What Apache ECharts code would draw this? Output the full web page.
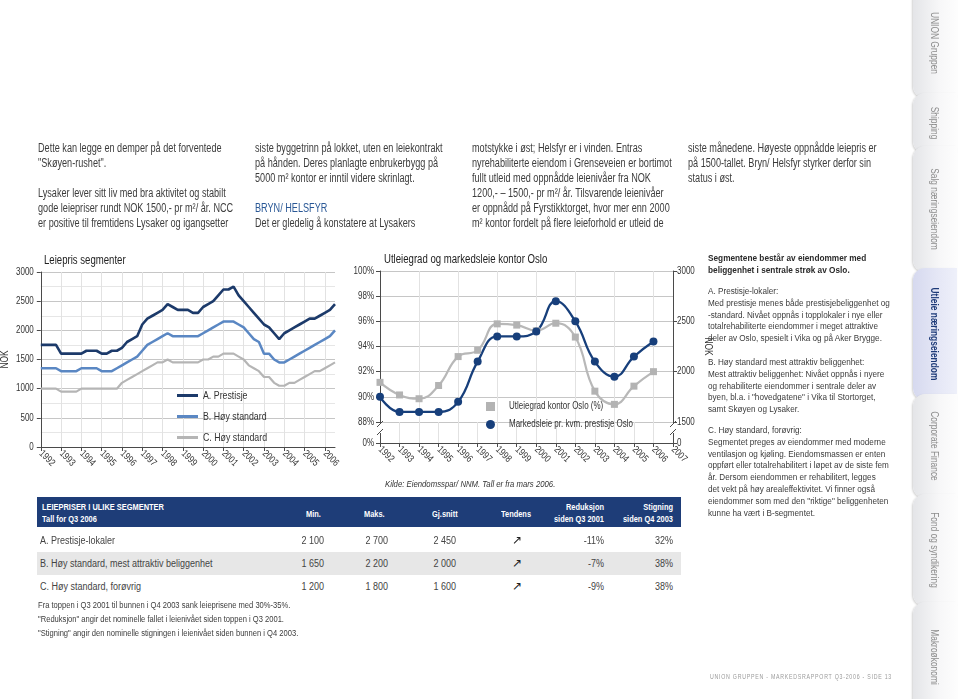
<!DOCTYPE html>
<html><head><meta charset="utf-8">
<script src="https://cdn.jsdelivr.net/npm/echarts@6/dist/echarts.min.js"></script>
<style>
body{margin:0;width:960px;height:699px;overflow:hidden;background:#fff;font-family:'Liberation Sans',Arial,sans-serif;color:#3c3c3c;position:relative;}
#chart{position:absolute;left:0;top:0;width:960px;height:699px;}
.t{position:absolute;white-space:nowrap;transform-origin:0 0;}
.col{font-size:12px;line-height:15px;transform:scaleX(0.76);}
.blue{color:#2a5896;}
.rp{font-size:9.6px;line-height:11.8px;transform:scaleX(0.85);}
.rpb{font-size:9.6px;line-height:12px;transform:scaleX(0.86);font-weight:bold;color:#2b2b2b;}
.hd{position:absolute;left:37px;top:497px;width:644px;height:30px;background:#1e3d78;}
.hw{position:absolute;color:#fff;font-weight:bold;font-size:9.3px;line-height:12px;white-space:nowrap;transform:scaleX(0.8);transform-origin:0 0;}
.hw.r{text-align:right;transform-origin:100% 0;}
.row{position:absolute;left:37px;width:644px;height:23px;}
.cell{position:absolute;font-size:10px;line-height:23px;white-space:nowrap;color:#444;transform:scaleX(0.9);}
.fn{font-size:9.6px;line-height:14px;transform:scaleX(0.79);}
.tab{position:absolute;left:913px;width:44px;border-radius:12px 0 0 12px;background:linear-gradient(to right,#e4e5e8,#f7f7f8 60%,#fdfdfd);box-shadow:-1px 1px 2px rgba(0,0,0,0.18);}
.tab span{position:absolute;left:50%;top:50%;transform:translate(-50%,-50%) scaleY(0.8);writing-mode:vertical-rl;font-size:10.5px;color:#8c8c8c;white-space:nowrap;}
.tab.act{background:linear-gradient(to right,#d6d9ef,#e6e8f6 60%,#eef0fa);}
.tab.act span{color:#1d3a78;font-weight:bold;}
.foot{font-size:7.4px;letter-spacing:1.05px;color:#9a9a9a;transform:scaleX(0.71);}
</style></head><body>
<div id="chart"></div>

<div class="t col" style="left:38px;top:140.5px;">Dette kan legge en demper på det forventede<br>"Skøyen-rushet".<br><br>Lysaker lever sitt liv med bra aktivitet og stabilt<br>gode leiepriser rundt NOK 1500,- pr m²/ år. NCC<br>er positive til fremtidens Lysaker og igangsetter</div>
<div class="t col" style="left:255px;top:140.5px;">siste byggetrinn på lokket, uten en leiekontrakt<br>på hånden. Deres planlagte enbrukerbygg på<br>5000 m² kontor er inntil videre skrinlagt.<br><br><span class="blue">BRYN/ HELSFYR</span><br>Det er gledelig å konstatere at Lysakers</div>
<div class="t col" style="left:472px;top:140.5px;">motstykke i øst; Helsfyr er i vinden. Entras<br>nyrehabiliterte eiendom i Grenseveien er bortimot<br>fullt utleid med oppnådde leienivåer fra NOK<br>1200,- – 1500,- pr m²/ år. Tilsvarende leienivåer<br>er oppnådd på Fyrstikktorget, hvor mer enn 2000<br>m² kontor fordelt på flere leieforhold er utleid de</div>
<div class="t col" style="left:688px;top:140.5px;">siste månedene. Høyeste oppnådde leiepris er<br>på 1500-tallet. Bryn/ Helsfyr styrker derfor sin<br>status i øst.</div>

<div class="t rpb" style="left:708px;top:252px;">Segmentene består av eiendommer med<br>beliggenhet i sentrale strøk av Oslo.</div>
<div class="t rp" style="left:708px;top:285px;">A. Prestisje-lokaler:<br>Med prestisje menes både prestisjebeliggenhet og<br>-standard. Nivået oppnås i topplokaler i nye eller<br>totalrehabiliterte eiendommer i meget attraktive<br>deler av Oslo, spesielt i Vika og på Aker Brygge.</div>
<div class="t rp" style="left:708px;top:356px;">B. Høy standard mest attraktiv beliggenhet:<br>Mest attraktiv beliggenhet: Nivået oppnås i nyere<br>og rehabiliterte eiendommer i sentrale deler av<br>byen, bl.a. i "hovedgatene" i Vika til Stortorget,<br>samt Skøyen og Lysaker.</div>
<div class="t rp" style="left:708px;top:424px;">C. Høy standard, forøvrig:<br>Segmentet preges av eiendommer med moderne<br>ventilasjon og kjøling. Eiendomsmassen er enten<br>oppført eller totalrehabilitert i løpet av de siste fem<br>år. Dersom eiendommen er rehabilitert, legges<br>det vekt på høy arealeffektivitet. Vi finner også<br>eiendommer som med den "riktige" beliggenheten<br>kunne ha vært i B-segmentet.</div>

<div class="hd"></div>
<div class="hw" style="left:42px;top:501px;">LEIEPRISER I ULIKE SEGMENTER<br>Tall for Q3 2006</div>
<div class="hw" style="left:306px;top:508px;">Min.</div>
<div class="hw" style="left:364px;top:508px;">Maks.</div>
<div class="hw" style="left:432px;top:508px;">Gj.snitt</div>
<div class="hw" style="left:501px;top:508px;">Tendens</div>
<div class="hw r" style="left:524px;width:80px;top:501px;">Reduksjon<br>siden Q3 2001</div>
<div class="hw r" style="left:593px;width:80px;top:501px;">Stigning<br>siden Q4 2003</div>

<div class="row" style="top:529px;background:#fff;"></div>
<div class="row" style="top:552px;background:#e7e7e7;"></div>
<div class="row" style="top:575px;background:#fff;"></div>
<div id="tbl"></div>

<div class="t fn" style="left:38px;top:598px;">Fra toppen i Q3 2001 til bunnen i Q4 2003 sank leieprisene med 30%-35%.<br>"Reduksjon" angir det nominelle fallet i leienivået siden toppen i Q3 2001.<br>"Stigning" angir den nominelle stigningen i leienivået siden bunnen i Q4 2003.</div>

<div class="t foot" style="left:710px;top:672px;">UNION GRUPPEN - MARKEDSRAPPORT Q3-2006 - SIDE 13</div>

<div class="tab" style="top:-12px;height:110px;"><span>UNION Gruppen</span></div>
<div class="tab" style="top:93px;height:60px;"><span>Shipping</span></div>
<div class="tab" style="top:146px;height:126px;"><span>Salg næringseiendom</span></div>
<div class="tab act" style="top:268px;height:132px;"><span>Utleie næringseiendom</span></div>
<div class="tab" style="top:394px;height:104px;"><span>Corporate Finance</span></div>
<div class="tab" style="top:494px;height:112px;"><span>Fond og syndikering</span></div>
<div class="tab" style="top:602px;height:110px;"><span>Makroøkonomi</span></div>

<script>
// ---------- DATA ----------
const segYears = [1992,1993,1994,1995,1996,1997,1998,1999,2000,2001,2002,2003,2004,2005,2006];
const segA = [1750,1750,1750,1750, 1600,1600,1600,1600, 1600,1650,1650,1650, 1600,1600,1650,1650,
              1700,1800,1850,1900, 2100,2200,2250,2300, 2350,2450,2400,2350, 2350,2350,2300,2300,
              2400,2450,2500,2600, 2700,2700,2750,2600, 2500,2400,2300,2200, 2100,2050,1950,1850,
              1950,2000,2050,2100, 2150,2200,2200,2250, 2300,2350,2450];
const segB = [1350,1350,1350,1350, 1300,1300,1300,1300, 1350,1350,1350,1350, 1300,1300,1300,1350,
              1400,1450,1500,1550, 1650,1750,1800,1850, 1900,1950,1900,1900, 1900,1900,1900,1900,
              1950,2000,2050,2100, 2150,2150,2150,2100, 2050,1950,1850,1800, 1600,1600,1500,1450,
              1450,1500,1550,1600, 1650,1700,1750,1800, 1850,1900,2000];
const segC = [1000,1000,1000,1000, 950,950,950,950, 1000,1000,1000,1000, 1000,1000,1000,1000,
              1100,1150,1200,1250, 1300,1350,1400,1450, 1450,1500,1450,1450, 1450,1450,1450,1450,
              1500,1500,1550,1550, 1600,1600,1600,1550, 1500,1400,1350,1300, 1200,1200,1100,1050,
              1050,1100,1100,1150, 1200,1250,1300,1300, 1350,1400,1450];
const segNames = ['A. Prestisje','B. Høy standard','C. Høy standard'];

const occYears = ['1992','1993','1994','1995','1996','1997','1998','1999','2000','2001','2002','2003','2004','2005','2006','2007'];
const occupancy = [91.15,90.15,89.85,90.9,93.2,93.7,95.8,95.7,95.25,95.85,94.75,90.45,89.4,90.85,92.0];
const marketRent = [1750,1600,1600,1600,1700,2100,2350,2350,2400,2700,2500,2100,1950,2150,2300];
const occNames = ['Utleiegrad kontor Oslo (%)','Markedsleie pr. kvm. prestisje Oslo'];

const tableRows = [
  ['A. Prestisje-lokaler','2 100','2 700','2 450','↗','-11%','32%'],
  ['B. Høy standard, mest attraktiv beliggenhet','1 650','2 200','2 000','↗','-7%','38%'],
  ['C. Høy standard, forøvrig','1 200','1 800','1 600','↗','-9%','38%']
];

// quarter categories (labels only)
const quarters = [];
segYears.forEach(y => { for (let q = 1; q <= 4; q++) if (quarters.length < segA.length) quarters.push(y + ' K' + q); });

// ---------- TABLE ----------
(function(){
  const tb = document.getElementById('tbl');
  const cols = [{x:40,w:0,al:'left',o:'0 0'},{x:262,w:62,al:'right',o:'100% 0'},{x:326,w:62,al:'right',o:'100% 0'},{x:394,w:62,al:'right',o:'100% 0'},{x:505,w:24,al:'center',o:'50% 0'},{x:524,w:80,al:'right',o:'100% 0'},{x:593,w:80,al:'right',o:'100% 0'}];
  tableRows.forEach((r,i)=>{
    r.forEach((c,j)=>{
      const d=document.createElement('div');
      d.className='cell';
      d.style.top=(529+i*23)+'px';
      d.style.left=cols[j].x+'px';
      if(cols[j].w){d.style.width=cols[j].w+'px';}
      d.style.textAlign=cols[j].al;
      d.style.transformOrigin=cols[j].o;
      d.textContent=c;
      if(j===4){d.style.fontSize='12px';d.style.color='#222';d.style.transform='none';}
      tb.appendChild(d);
    });
  });
})();

// ---------- condensed canvas text (reference uses a condensed face) ----------
(function(){
  const K = 0.8;
  const P = CanvasRenderingContext2D.prototype;
  const oF = P.fillText, oS = P.strokeText, oM = P.measureText;
  P.fillText = function(t,x,y,mw){ this.save(); this.translate(x,y); this.scale(K,1); oF.call(this,t,0,0); this.restore(); };
  P.strokeText = function(t,x,y,mw){ this.save(); this.translate(x,y); this.scale(K,1); oS.call(this,t,0,0); this.restore(); };
  P.measureText = function(t){
    const m = oM.call(this,t);
    return {width:m.width*K,
      actualBoundingBoxAscent:m.actualBoundingBoxAscent, actualBoundingBoxDescent:m.actualBoundingBoxDescent,
      actualBoundingBoxLeft:m.actualBoundingBoxLeft*K, actualBoundingBoxRight:m.actualBoundingBoxRight*K,
      fontBoundingBoxAscent:m.fontBoundingBoxAscent, fontBoundingBoxDescent:m.fontBoundingBoxDescent};
  };
})();

// ---------- CHART ----------
const FONT = "'Liberation Sans',Arial,sans-serif";
const chart = echarts.init(document.getElementById('chart'));
const G0 = {left:39, top:272, width:296, height:175};
const G1 = {left:380, top:271, width:293, height:151};
const G2 = {left:380, top:422, width:293, height:21};
const AX = '#4a4a4a';
const yearIdx = (i) => i % 4 === 0;
const plain = (v) => String(v);

function breakMarks(x){
  return [
    {type:'rect', z:100, shape:{x:x-2, y:424, width:4, height:9}, style:{fill:'#fff'}},
    {type:'line', z:101, shape:{x1:x-3, y1:427, x2:x+3, y2:421}, style:{stroke:AX, lineWidth:1}},
    {type:'line', z:101, shape:{x1:x-3, y1:435, x2:x+3, y2:429}, style:{stroke:AX, lineWidth:1}}
  ];
}

chart.setOption({
  animation:false,
  textStyle:{fontFamily:FONT, color:'#333'},
  title:[
    {text:'Leiepris segmenter', left:39, top:251, textStyle:{fontFamily:FONT, fontSize:12, fontWeight:'normal', color:'#222'}},
    {text:'Utleiegrad og markedsleie kontor Oslo', left:379, top:250, textStyle:{fontFamily:FONT, fontSize:12, fontWeight:'normal', color:'#222'}},
    {text:'Kilde: Eiendomsspar/ NNM. Tall er fra mars 2006.', left:380, top:475, textStyle:{fontFamily:FONT, fontSize:9.7, fontStyle:'italic', fontWeight:'normal', color:'#333'}}
  ],
  legend:[
    {data:segNames, orient:'vertical', left:172, top:384, icon:'rect', itemWidth:21, itemHeight:3, itemGap:8,
     textStyle:{fontFamily:FONT, fontSize:11, color:'#333', lineHeight:13}},
    {data:[{name:occNames[0], icon:'rect'},{name:occNames[1], icon:'circle'}], orient:'vertical', left:481, top:397,
     itemWidth:9, itemHeight:9, itemGap:9, textStyle:{fontFamily:FONT, fontSize:10, color:'#333', padding:[0,0,0,9]}}
  ],
  grid:[
    Object.assign({containLabel:false}, G0),
    Object.assign({containLabel:false}, G1),
    Object.assign({containLabel:false}, G2)
  ],
  xAxis:[
    {gridIndex:0, type:'category', data:quarters, boundaryGap:false,
     axisLine:{lineStyle:{color:AX}}, axisTick:{interval:yearIdx, length:4, lineStyle:{color:AX}},
     axisLabel:{interval:yearIdx, formatter:v=>v.slice(0,4), rotate:-45, margin:5, fontSize:10, color:'#333'},
     splitLine:{show:true, interval:yearIdx, lineStyle:{color:'#e2e2e2'}}},
    {gridIndex:1, type:'category', data:occYears, boundaryGap:false,
     axisLine:{show:false}, axisTick:{show:false}, axisLabel:{show:false},
     splitLine:{show:true, lineStyle:{color:'#e2e2e2'}}},
    {gridIndex:2, type:'category', data:occYears, boundaryGap:false,
     axisLine:{lineStyle:{color:AX}}, axisTick:{length:4, lineStyle:{color:AX}},
     axisLabel:{rotate:-45, margin:5, fontSize:10, color:'#333', interval:0},
     splitLine:{show:true, lineStyle:{color:'#e2e2e2'}}}
  ],
  yAxis:[
    {gridIndex:0, type:'value', min:0, max:3000, interval:500,
     name:'NOK', nameLocation:'middle', nameGap:31, nameRotate:90, nameTextStyle:{fontFamily:FONT, fontSize:10.5, color:'#333'},
     axisLine:{show:true, lineStyle:{color:AX}}, axisTick:{show:true, length:4, lineStyle:{color:AX}},
     axisLabel:{fontSize:10, margin:7, color:'#333', formatter:plain},
     splitLine:{lineStyle:{color:'#c6c6c6'}},
     minorTick:{show:false, splitNumber:2}, minorSplitLine:{show:true, lineStyle:{color:'#e6e6e6'}}},
    {gridIndex:1, type:'value', min:88, max:100, interval:2,
     axisLine:{show:true, lineStyle:{color:AX}}, axisTick:{show:true, length:4, lineStyle:{color:AX}},
     axisLabel:{formatter:'{value}%', fontSize:10, margin:6, color:'#333'},
     splitLine:{lineStyle:{color:'#c6c6c6'}}},
    {gridIndex:1, type:'value', position:'right', min:1500, max:3000, interval:500,
     name:'NOK', nameLocation:'middle', nameGap:30, nameRotate:-90, nameTextStyle:{fontFamily:FONT, fontSize:10.5, color:'#333'},
     axisLine:{show:true, lineStyle:{color:AX}}, axisTick:{show:true, length:4, lineStyle:{color:AX}},
     axisLabel:{fontSize:10, margin:4, color:'#333', formatter:plain}, splitLine:{show:false}},
    {gridIndex:2, type:'value', min:0, max:1, interval:1,
     axisLine:{show:true, lineStyle:{color:AX}}, axisTick:{show:true, length:4, lineStyle:{color:AX}},
     axisLabel:{formatter:v=>v===0?'0%':'', fontSize:10, margin:6, color:'#333'}, splitLine:{show:false}},
    {gridIndex:2, type:'value', position:'right', min:0, max:1, interval:1,
     axisLine:{show:true, lineStyle:{color:AX}}, axisTick:{show:true, length:4, lineStyle:{color:AX}},
     axisLabel:{formatter:v=>v===0?'0':'', fontSize:10, margin:4, color:'#333'}, splitLine:{show:false}}
  ],
  series:[
    {name:segNames[2], type:'line', xAxisIndex:0, yAxisIndex:0, data:segC, symbol:'none',
     lineStyle:{color:'#b5b5b5', width:2.2}, itemStyle:{color:'#b5b5b5'}},
    {name:segNames[1], type:'line', xAxisIndex:0, yAxisIndex:0, data:segB, symbol:'none',
     lineStyle:{color:'#5a87c3', width:2.5}, itemStyle:{color:'#5a87c3'}},
    {name:segNames[0], type:'line', xAxisIndex:0, yAxisIndex:0, data:segA, symbol:'none',
     lineStyle:{color:'#1c3a6a', width:2.6}, itemStyle:{color:'#1c3a6a'}},
    {name:occNames[0], type:'line', xAxisIndex:1, yAxisIndex:1, data:occupancy, smooth:0.45,
     symbol:'rect', symbolSize:7, lineStyle:{color:'#b8b8b8', width:2.2}, itemStyle:{color:'#b3b3b3'}},
    {name:occNames[1], type:'line', xAxisIndex:1, yAxisIndex:2, data:marketRent, smooth:0.45,
     symbol:'circle', symbolSize:8, lineStyle:{color:'#173f7b', width:2.3}, itemStyle:{color:'#173f7b'}}
  ],
  graphic: breakMarks(G1.left).concat(breakMarks(G1.left + G1.width))
});
</script>
</body></html>
